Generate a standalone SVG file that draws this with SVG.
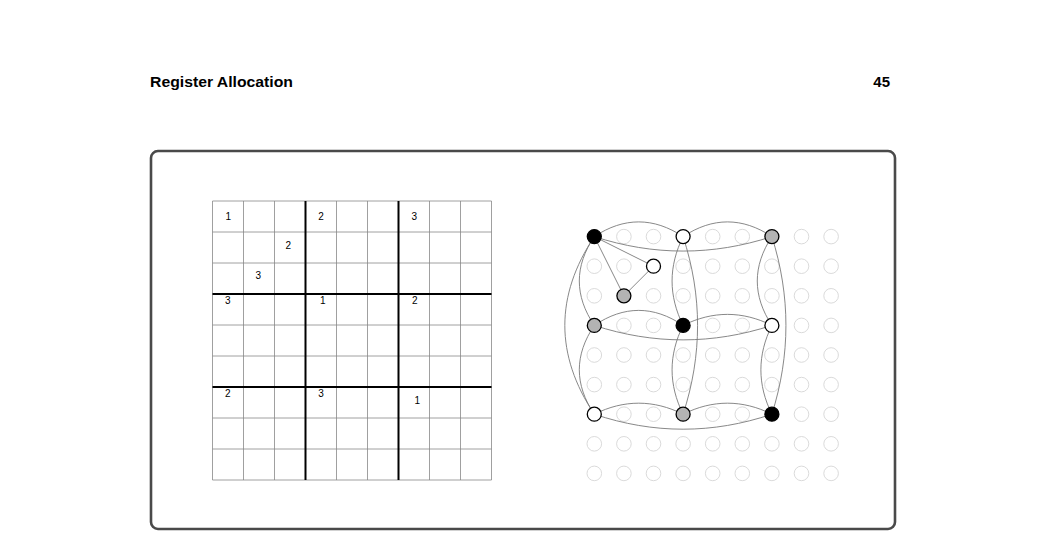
<svg xmlns="http://www.w3.org/2000/svg" width="1050" height="547" viewBox="0 0 1050 547">
<style>
.title{font-family:"Liberation Sans",Arial,sans-serif;font-weight:bold;font-size:15px;fill:#000}
.num{font-family:"Liberation Sans",Arial,sans-serif;font-size:10px;fill:#000;text-anchor:middle}
.thin{stroke:#888;stroke-width:0.8;fill:none}
.thick{stroke:#000;stroke-width:2;fill:none}
.bg{fill:#fff;stroke:#d6d6d6;stroke-width:0.9}
.edge{fill:none;stroke:#7a7a7a;stroke-width:0.9}
.n{stroke:#000;stroke-width:1.3}
.black{fill:#000}
.gray{fill:#b3b3b3}
.white{fill:#fff}
</style>
<rect width="1050" height="547" fill="#fff"/>
<text class="title" x="150" y="87" textLength="143" lengthAdjust="spacingAndGlyphs">Register Allocation</text>
<text class="title" x="890" y="87" text-anchor="end">45</text>
<rect id="frame" x="151" y="151" width="744" height="378" rx="7" ry="7" fill="none" stroke="#4a4a4a" stroke-width="2.6"/>

<g id="sudoku">
<path class="thin" d="M212.5,201V480M243.5,201V480M274.5,201V480M336.5,201V480M367.5,201V480M429.5,201V480M460.5,201V480M491.5,201V480M212.5,201H491.5M212.5,232H491.5M212.5,263H491.5M212.5,325H491.5M212.5,356H491.5M212.5,418H491.5M212.5,449H491.5M212.5,480H491.5"/>
<path class="thick" d="M305.5,201V480M398.5,201V480M212.5,294H491.5M212.5,387H491.5"/>
<text class="num" x="228.3" y="219.7">1</text>
<text class="num" x="321" y="219.7">2</text>
<text class="num" x="414.3" y="219.7">3</text>
<text class="num" x="288.3" y="249.2">2</text>
<text class="num" x="258.3" y="279.2">3</text>
<text class="num" x="227.7" y="303.7">3</text>
<text class="num" x="322.7" y="303.7">1</text>
<text class="num" x="414.7" y="303.7">2</text>
<text class="num" x="227.7" y="396.7">2</text>
<text class="num" x="321" y="396.7">3</text>
<text class="num" x="417.3" y="403.7">1</text>
</g>

<g id="background-grid">
<circle class="bg" cx="623.9" cy="236.6" r="7.3"/><circle class="bg" cx="653.5" cy="236.6" r="7.3"/><circle class="bg" cx="712.7" cy="236.6" r="7.3"/><circle class="bg" cx="742.3" cy="236.6" r="7.3"/><circle class="bg" cx="801.5" cy="236.6" r="7.3"/><circle class="bg" cx="831.1" cy="236.6" r="7.3"/>
<circle class="bg" cx="594.3" cy="266.2" r="7.3"/><circle class="bg" cx="623.9" cy="266.2" r="7.3"/><circle class="bg" cx="683.1" cy="266.2" r="7.3"/><circle class="bg" cx="712.7" cy="266.2" r="7.3"/><circle class="bg" cx="742.3" cy="266.2" r="7.3"/><circle class="bg" cx="771.9" cy="266.2" r="7.3"/><circle class="bg" cx="801.5" cy="266.2" r="7.3"/><circle class="bg" cx="831.1" cy="266.2" r="7.3"/>
<circle class="bg" cx="594.3" cy="295.8" r="7.3"/><circle class="bg" cx="653.5" cy="295.8" r="7.3"/><circle class="bg" cx="683.1" cy="295.8" r="7.3"/><circle class="bg" cx="712.7" cy="295.8" r="7.3"/><circle class="bg" cx="742.3" cy="295.8" r="7.3"/><circle class="bg" cx="771.9" cy="295.8" r="7.3"/><circle class="bg" cx="801.5" cy="295.8" r="7.3"/><circle class="bg" cx="831.1" cy="295.8" r="7.3"/>
<circle class="bg" cx="623.9" cy="325.4" r="7.3"/><circle class="bg" cx="653.5" cy="325.4" r="7.3"/><circle class="bg" cx="712.7" cy="325.4" r="7.3"/><circle class="bg" cx="742.3" cy="325.4" r="7.3"/><circle class="bg" cx="801.5" cy="325.4" r="7.3"/><circle class="bg" cx="831.1" cy="325.4" r="7.3"/>
<circle class="bg" cx="594.3" cy="355" r="7.3"/><circle class="bg" cx="623.9" cy="355" r="7.3"/><circle class="bg" cx="653.5" cy="355" r="7.3"/><circle class="bg" cx="683.1" cy="355" r="7.3"/><circle class="bg" cx="712.7" cy="355" r="7.3"/><circle class="bg" cx="742.3" cy="355" r="7.3"/><circle class="bg" cx="771.9" cy="355" r="7.3"/><circle class="bg" cx="801.5" cy="355" r="7.3"/><circle class="bg" cx="831.1" cy="355" r="7.3"/>
<circle class="bg" cx="594.3" cy="384.6" r="7.3"/><circle class="bg" cx="623.9" cy="384.6" r="7.3"/><circle class="bg" cx="653.5" cy="384.6" r="7.3"/><circle class="bg" cx="683.1" cy="384.6" r="7.3"/><circle class="bg" cx="712.7" cy="384.6" r="7.3"/><circle class="bg" cx="742.3" cy="384.6" r="7.3"/><circle class="bg" cx="771.9" cy="384.6" r="7.3"/><circle class="bg" cx="801.5" cy="384.6" r="7.3"/><circle class="bg" cx="831.1" cy="384.6" r="7.3"/>
<circle class="bg" cx="623.9" cy="414.2" r="7.3"/><circle class="bg" cx="653.5" cy="414.2" r="7.3"/><circle class="bg" cx="712.7" cy="414.2" r="7.3"/><circle class="bg" cx="742.3" cy="414.2" r="7.3"/><circle class="bg" cx="801.5" cy="414.2" r="7.3"/><circle class="bg" cx="831.1" cy="414.2" r="7.3"/>
<circle class="bg" cx="594.3" cy="443.8" r="7.3"/><circle class="bg" cx="623.9" cy="443.8" r="7.3"/><circle class="bg" cx="653.5" cy="443.8" r="7.3"/><circle class="bg" cx="683.1" cy="443.8" r="7.3"/><circle class="bg" cx="712.7" cy="443.8" r="7.3"/><circle class="bg" cx="742.3" cy="443.8" r="7.3"/><circle class="bg" cx="771.9" cy="443.8" r="7.3"/><circle class="bg" cx="801.5" cy="443.8" r="7.3"/><circle class="bg" cx="831.1" cy="443.8" r="7.3"/>
<circle class="bg" cx="594.3" cy="473.4" r="7.3"/><circle class="bg" cx="623.9" cy="473.4" r="7.3"/><circle class="bg" cx="653.5" cy="473.4" r="7.3"/><circle class="bg" cx="683.1" cy="473.4" r="7.3"/><circle class="bg" cx="712.7" cy="473.4" r="7.3"/><circle class="bg" cx="742.3" cy="473.4" r="7.3"/><circle class="bg" cx="771.9" cy="473.4" r="7.3"/><circle class="bg" cx="801.5" cy="473.4" r="7.3"/><circle class="bg" cx="831.1" cy="473.4" r="7.3"/>
</g>

<g id="connectors">
<path class="edge" d="M594.3,236.6 C623.9,217 653.5,217 683.1,236.6"/>
<path class="edge" d="M683.1,236.6 C712.7,217 742.3,217 771.9,236.6"/>
<path class="edge" d="M594.3,236.6 C653.5,255.9 712.7,255.9 771.9,236.6"/>
<path class="edge" d="M594.3,325.4 C623.9,305.4 653.5,305.4 683.1,325.4"/>
<path class="edge" d="M683.1,325.4 C712.7,310.7 742.3,310.7 771.9,325.4"/>
<path class="edge" d="M594.3,325.4 C653.5,344.7 712.7,344.7 771.9,325.4"/>
<path class="edge" d="M594.3,414.2 C623.9,399.5 653.5,399.5 683.1,414.2"/>
<path class="edge" d="M683.1,414.2 C712.7,399.5 742.3,399.5 771.9,414.2"/>
<path class="edge" d="M594.3,414.2 C653.5,434.2 712.7,434.2 771.9,414.2"/>
<path class="edge" d="M594.3,236.6 C574.3,266.2 574.3,295.8 594.3,325.4"/>
<path class="edge" d="M594.3,325.4 C574.3,355 574.3,384.6 594.3,414.2"/>
<path class="edge" d="M594.3,236.6 C555,295.8 555,355 594.3,414.2"/>
<path class="edge" d="M683.1,236.6 C668.4,266.2 668.4,295.8 683.1,325.4"/>
<path class="edge" d="M683.1,325.4 C668.4,355 668.4,384.6 683.1,414.2"/>
<path class="edge" d="M683.1,236.6 C702.4,295.8 702.4,355 683.1,414.2"/>
<path class="edge" d="M771.9,236.6 C752.4,266.2 752.4,295.8 771.9,325.4"/>
<path class="edge" d="M771.9,325.4 C757.2,355 757.2,384.6 771.9,414.2"/>
<path class="edge" d="M771.9,236.6 C790.6,295.8 790.6,355 771.9,414.2"/>
<path class="edge" d="M594.3,236.6 L653.5,266.2"/>
<path class="edge" d="M594.3,236.6 L623.9,295.8"/>
<path class="edge" d="M653.5,266.2 L623.9,295.8"/>
</g>

<g id="n00"><circle class="n black" cx="594.3" cy="236.6" r="7"/></g>
<g id="n30"><circle class="n white" cx="683.1" cy="236.6" r="7"/></g>
<g id="n60"><circle class="n gray" cx="771.9" cy="236.6" r="7"/></g>
<g id="n21"><circle class="n white" cx="653.5" cy="266.2" r="7"/></g>
<g id="n12"><circle class="n gray" cx="623.9" cy="295.8" r="7"/></g>
<g id="n03"><circle class="n gray" cx="594.3" cy="325.4" r="7"/></g>
<g id="n33"><circle class="n black" cx="683.1" cy="325.4" r="7"/></g>
<g id="n63"><circle class="n white" cx="771.9" cy="325.4" r="7"/></g>
<g id="n06"><circle class="n white" cx="594.3" cy="414.2" r="7"/></g>
<g id="n36"><circle class="n gray" cx="683.1" cy="414.2" r="7"/></g>
<g id="n66"><circle class="n black" cx="771.9" cy="414.2" r="7"/></g>
</svg>
